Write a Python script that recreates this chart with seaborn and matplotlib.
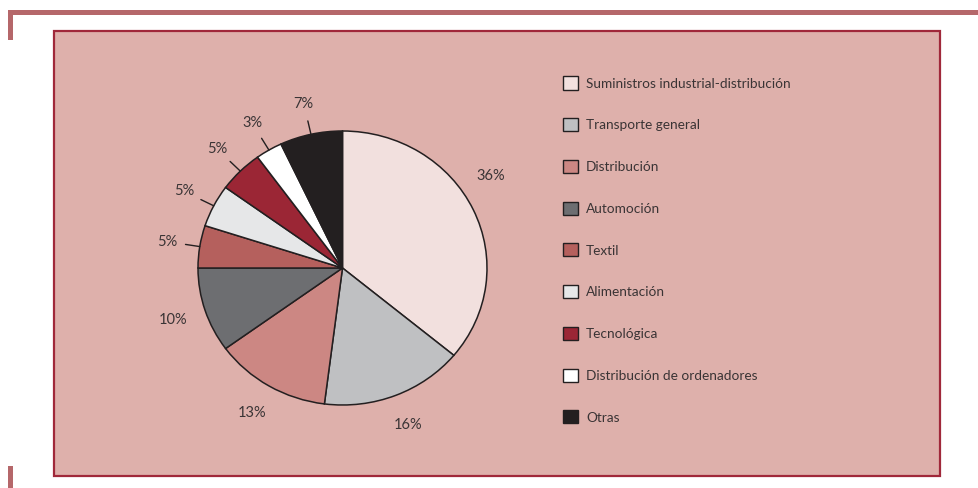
import numpy as np
import matplotlib.pyplot as plt
import matplotlib.patches as mpatches
import seaborn as sns

# Datos del gráfico
sectores = ['Suministros industrial-distribución', 'Transporte general', 'Distribución',
            'Automoción', 'Textil', 'Alimentación', 'Tecnológica',
            'Distribución de ordenadores', 'Otras']
porcentajes = [36, 16, 13, 10, 5, 5, 5, 3, 7]
colores = ['#f2e0de', '#bfc0c2', '#cc8783', '#6d6e71', '#b5605d',
           '#e6e7e8', '#9b2635', '#ffffff', '#231f20']

sns.set_theme(style='white')
plt.rcParams['font.family'] = ['Lato', 'DejaVu Sans']
texto = '#3a3435'

fig = plt.figure(figsize=(9.79, 4.88), dpi=100)
fig.patch.set_facecolor('white')

# Marco exterior y recuadro rosa
W, H = 979, 488
def rect_px(x0, y0, x1, y1, **kw):
    return mpatches.Rectangle((x0 / W, 1 - y1 / H), (x1 - x0) / W, (y1 - y0) / H,
                              transform=fig.transFigure, zorder=-5, **kw)

fig.add_artist(rect_px(8, 10, 979, 15, facecolor='#b5676a', edgecolor='none'))
fig.add_artist(rect_px(8, 10, 13, 40, facecolor='#b5676a', edgecolor='none'))
fig.add_artist(rect_px(8, 466, 13, 488, facecolor='#b5676a', edgecolor='none'))
fig.add_artist(rect_px(54, 31, 940, 476, facecolor='#deb0ab', edgecolor='#a0283a', linewidth=1.6))

# Tarta
ax = fig.add_axes([198 / W, 1 - 405 / H, 289 / W, 274 / H])
ax.patch.set_visible(False)
wedges, _ = ax.pie(porcentajes, colors=colores, startangle=90, counterclock=False,
                   wedgeprops=dict(edgecolor='#231f20', linewidth=1.1))
ax.set_aspect('auto')
ax.set_xlim(-1, 1)
ax.set_ylim(-1, 1)
ax.axis('off')

# Etiquetas de porcentaje
for w, p in zip(wedges, porcentajes):
    mid = (w.theta1 + w.theta2) / 2
    if p >= 30:
        mid += 8  # la etiqueta grande va algo más arriba
    ang = np.deg2rad(mid)
    c, s = np.cos(ang), np.sin(ang)
    if p <= 7:
        ax.plot([1.0 * c, 1.1 * c], [1.0 * s, 1.1 * s], color='#231f20', lw=1.0,
                clip_on=False)
    ax.text(1.23 * c, 1.23 * s, f'{p}%', ha='center', va='center', fontsize=10.5,
            color=texto)

# Leyenda
leg = fig.legend(wedges, sectores, loc='upper left', bbox_to_anchor=(558 / W, 1 - 71 / H),
                 frameon=False, fontsize=9.8, labelcolor=texto,
                 handlelength=1.1, handleheight=1.1, handletextpad=0.55,
                 labelspacing=2.1, borderaxespad=0)
for h in leg.legend_handles:
    h.set_edgecolor('#231f20')
    h.set_linewidth(1.0)

plt.savefig('out.png', dpi=100)
